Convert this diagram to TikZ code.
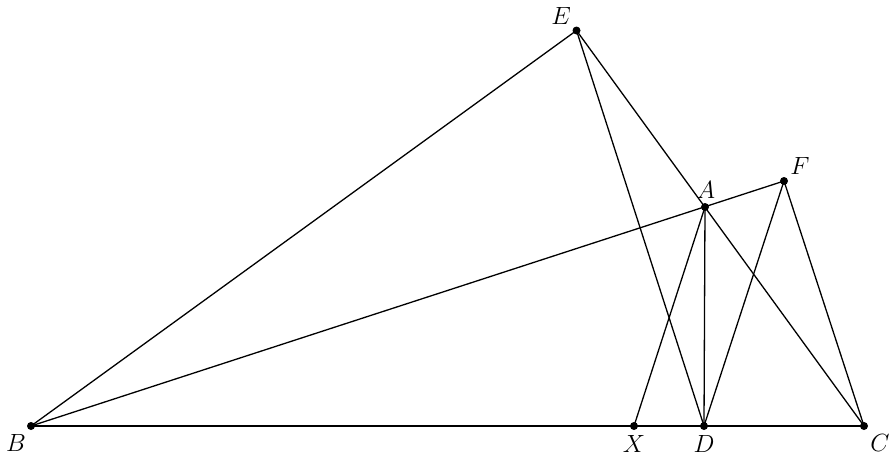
\documentclass[tikz,border=0pt]{standalone}
\begin{document}
\begin{tikzpicture}[x=1pt,y=-1pt,
  seg/.style={line width=1.3pt},
  dot/.style={circle,fill=black,inner sep=0pt,minimum size=8pt},
  lbl/.style={inner sep=0pt,font=\fontsize{24}{28}\selectfont}]
\useasboundingbox (0,0) rectangle (892,459);
\node[dot] (B) at (31,426) {};
\node[dot] (C) at (864,426) {};
\node[dot] (X) at (634,426) {};
\node[dot] (D) at (704,426) {};
\node[dot] (A) at (705,207) {};
\node[dot] (E) at (576.5,30.5) {};
\node[dot] (F) at (784,181) {};
\draw[seg] (B.center) -- (C.center);
\draw[seg] (B.center) -- (E.center);
\draw[seg] (E.center) -- (C.center);
\draw[seg] (E.center) -- (D.center);
\draw[seg] (B.center) -- (F.center);
\draw[seg] (A.center) -- (X.center);
\draw[seg] (A.center) -- (D.center);
\draw[seg] (F.center) -- (D.center);
\draw[seg] (F.center) -- (C.center);
\node[lbl] (lE) at (561,16) {$E$};
\node[lbl] (lA) at (706,190) {$A$};
\node[lbl] (lF) at (800,166) {$F$};
\node[lbl] (lB) at (16,443) {$B$};
\node[lbl] (lX) at (634,444) {$X$};
\node[lbl] (lD) at (704,444) {$D$};
\node[lbl] (lC) at (880,443) {$C$};
\end{tikzpicture}
\end{document}
